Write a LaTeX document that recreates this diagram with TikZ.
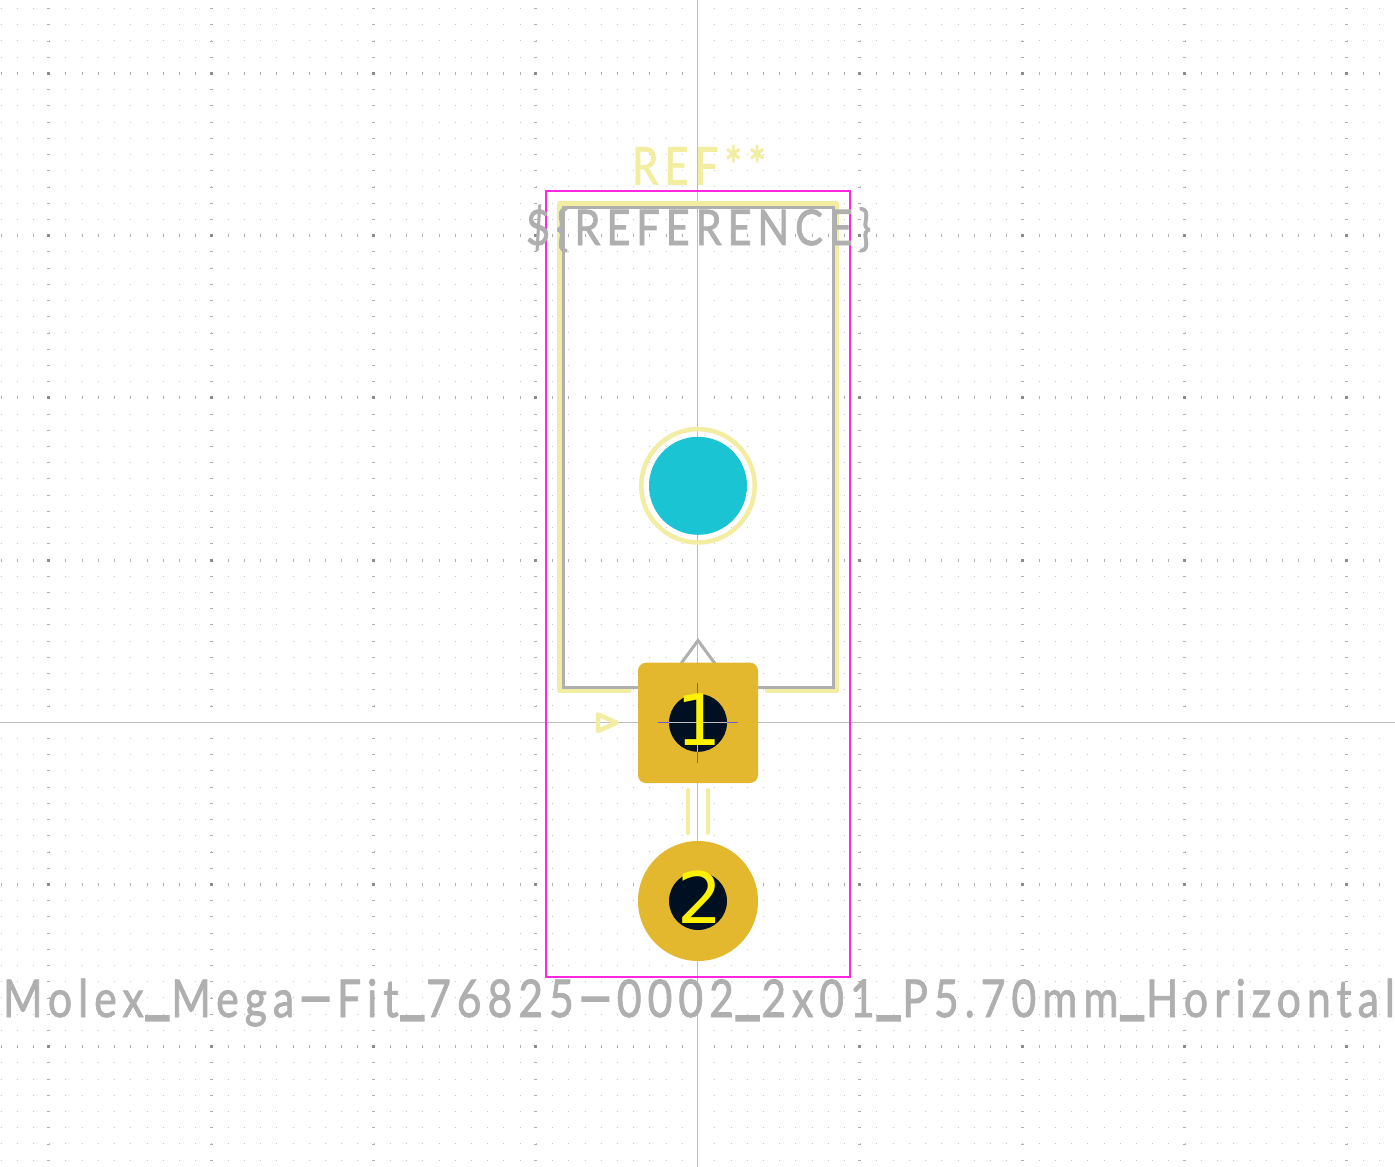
\documentclass[tikz,border=0pt]{standalone}
\usepackage{fontspec}
\usepackage{graphicx}
\setmainfont{Lato}[FakeBold=1.6,LetterSpace=14]
\newfontfamily\padfont{DejaVu Sans}
\newcommand{\hy}{\hspace{2pt}\scalebox{2.5}[1.15]{-}\hspace{2pt}}
\newcommand{\us}{\raisebox{8pt}{\scalebox{1.4}[1.6]{\char95}}}
\definecolor{silk}{HTML}{F2EDA1}
\definecolor{fab}{HTML}{AFAFAF}
\definecolor{court}{HTML}{FF26E2}
\definecolor{padcol}{HTML}{E3B72E}
\definecolor{holecol}{HTML}{001023}
\definecolor{teal}{HTML}{1AC4D2}
\definecolor{axisc}{HTML}{BEBEBE}
\definecolor{crossc}{HTML}{6A5ACD}
\definecolor{gmin}{HTML}{C8C8C8}
\definecolor{gmed}{HTML}{B0B0B0}
\definecolor{gmaj}{HTML}{8C8C8C}
\tikzset{
  silkline/.style={draw=silk,line width=4.5pt,line cap=round,line join=round},
  fabline/.style={draw=fab,line width=3pt,line join=miter},
  courtline/.style={draw=court,line width=2pt},
  axisline/.style={draw=axisc,line width=1.3pt},
  axisgap/.style={draw=white,line width=5pt},
  crossline/.style={draw=crossc,line width=1pt},
  gridrow/.style={draw=gmin,line width=1pt,dash pattern=on 1pt off 15.22pt},
  gridtick/.style={draw=gmed,line width=3pt,dash pattern=on 1pt off 15.22pt},
  gridmajor/.style={draw=gmaj,line width=3pt,dash pattern=on 3pt off 159.2pt},
  padtext/.style={inner sep=0pt,text=yellow,font=\padfont\fontsize{71}{71}\selectfont},
  bigtext/.style={inner sep=0pt,anchor=base}
}
\begin{document}
\begin{tikzpicture}[x=1pt,y=-1pt]
\useasboundingbox (0,0) rectangle (1395,1167);
\fill[white] (0,0) rectangle (1395,1167);
% grid
\foreach \k in {-44,...,27} {
  \pgfmathsetmacro{\yy}{722.2+\k*16.22}
  \draw[gridrow] (0.6,\yy) -- (1395,\yy);
}
\foreach \k in {-4,-3,-2,-1,1,2,3,4} {
  \pgfmathsetmacro{\xx}{697.7+\k*162.2}
  \draw[gridtick] (\xx,8.1) -- (\xx,1167);
}
\foreach \k in {-4,-3,-2,-1,1,2} {
  \pgfmathsetmacro{\yy}{722.2+\k*162.2}
  \draw[gridtick] (0.6,\yy) -- (1395,\yy);
}
\foreach \k in {-4,-3,-2,-1,1,2,3,4} {
  \pgfmathsetmacro{\xx}{697.7+\k*162.2}
  \draw[gridmajor] (\xx,72) -- (\xx,1167);
}
% axes
\draw[axisgap] (697.5,0) -- (697.5,1167);
\draw[axisgap] (0,722.5) -- (1395,722.5);
\draw[axisline] (697.5,0) -- (697.5,1167);
\draw[axisline] (0,722.5) -- (1395,722.5);
% courtyard
\draw[courtline] (546.3,191) rectangle (850,976.5);
% silk
\draw[silkline] (629.5,690.3) -- (559.3,690.3) -- (559.3,203.3) -- (837,203.3) -- (837,690.3) -- (767,690.3);
\draw[silkline] (598,714.5) -- (598,731) -- (616.5,722.7) -- cycle;
\draw[silkline,line width=4pt] (688,790) -- (688,833);
\draw[silkline,line width=4pt] (708,790) -- (708,833);
\draw[silkline] (698,485.8) circle (56.7);
% fab
\draw[fabline] (563.5,207) rectangle (833.5,687);
\draw[fabline] (680,665) -- (698,640.5) -- (716,665);
% mounting hole
\fill[teal] (698,485.8) circle (49);
% pads
\fill[padcol,rounded corners=8pt] (638,662.7) rectangle (758,783);
\fill[padcol] (698,901) circle (60);
\fill[holecol] (698,722.8) circle (29);
\fill[holecol] (698,901) circle (29);
\draw[crossline] (658,722.5) -- (738,722.5);
\draw[crossline] (697.5,683) -- (697.5,762.7);
\draw[axisline] (669,722.5) -- (727,722.5);
\draw[axisline] (697.5,694) -- (697.5,752);
\node[padtext] (pad1) at (699,719.5) {1};
\node[padtext] (pad2) at (700,897.5) {2};
% texts
\node[bigtext,text=silk] (ref) at (699,184.5) {\resizebox{134pt}{\height}{\fontsize{52}{52}\selectfont REF**}};
\node[bigtext,text=fab] (refvar) at (698.5,245) {\resizebox{345pt}{\height}{\fontsize{49}{49}\selectfont \$\{REFERENCE\}}};
\node[bigtext,text=fab] (name) at (699,1017) {\resizebox{1392pt}{\height}{\fontsize{52}{52}\selectfont Molex\us Mega\hy Fit\us 76825\hy 0002\us 2x01\us P5.70mm\us Horizontal}};
\end{tikzpicture}
\end{document}
